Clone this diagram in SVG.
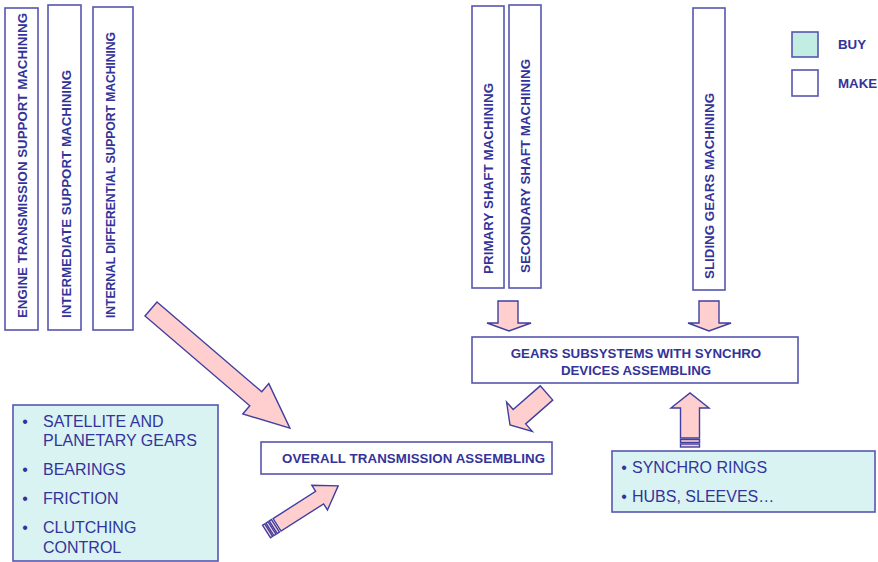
<svg xmlns="http://www.w3.org/2000/svg" width="878" height="562" viewBox="0 0 878 562">
  <defs>
    <style>
      .box { fill: #ffffff; stroke: #5656b0; stroke-width: 1.6; }
      .buy { fill: #d9f3f3; stroke: #5656b0; stroke-width: 1.6; }
      .legend-buy { fill: #c2ede3; stroke: #5656b0; stroke-width: 1.6; }
      .lbl { font-family: "Liberation Sans", Arial, Helvetica, sans-serif; font-weight: bold; font-size: 13.3px; fill: #33339a; }
      .item { font-family: "Liberation Sans", Arial, Helvetica, sans-serif; font-size: 16px; fill: #33339a; }
      .arrow { fill: #ffcfcf; stroke: #3f3fa0; stroke-width: 1.4; stroke-linejoin: miter; }
    </style>
  </defs>

  <rect width="878" height="562" fill="#ffffff"/>

  <!-- machining steps (vertical labels) -->
  <g id="engine-support">
    <rect class="box" x="5" y="8" width="33" height="322"/>
    <text class="lbl" transform="translate(26.5,318) rotate(-90)" textLength="305">ENGINE TRANSMISSION SUPPORT MACHINING</text>
  </g>
  <g id="intermediate-support">
    <rect class="box" x="48" y="5" width="33" height="325"/>
    <text class="lbl" transform="translate(70.5,318) rotate(-90)" textLength="248">INTERMEDIATE SUPPORT MACHINING</text>
  </g>
  <g id="differential-support">
    <rect class="box" x="93" y="7" width="40" height="323"/>
    <text class="lbl" style="font-size:12.2px" transform="translate(115,318) rotate(-90)" textLength="286">INTERNAL DIFFERENTIAL SUPPORT MACHINING</text>
  </g>
  <g id="primary-shaft">
    <rect class="box" x="472" y="6" width="32" height="282"/>
    <text class="lbl" transform="translate(493,274) rotate(-90)" textLength="191">PRIMARY SHAFT MACHINING</text>
  </g>
  <g id="secondary-shaft">
    <rect class="box" x="509" y="5" width="32" height="283"/>
    <text class="lbl" transform="translate(530,273) rotate(-90)" textLength="214">SECONDARY SHAFT MACHINING</text>
  </g>
  <g id="sliding-gears">
    <rect class="box" x="693" y="8" width="32" height="282"/>
    <text class="lbl" transform="translate(714,279) rotate(-90)" textLength="186">SLIDING GEARS MACHINING</text>
  </g>

  <!-- assemblies -->
  <g id="gears-subsystems">
    <rect class="box" x="472" y="337" width="326" height="46"/>
    <text class="lbl" x="636" y="358" text-anchor="middle">GEARS SUBSYSTEMS WITH SYNCHRO</text>
    <text class="lbl" x="636" y="375" text-anchor="middle">DEVICES ASSEMBLING</text>
  </g>
  <g id="overall-assembling">
    <rect class="box" x="261" y="442" width="291" height="32"/>
    <text class="lbl" x="282" y="463" textLength="263">OVERALL TRANSMISSION ASSEMBLING</text>
  </g>

  <!-- purchased parts -->
  <g id="bought-transmission-parts">
    <rect class="buy" x="13" y="405" width="205" height="156"/>
    <g class="item">
      <text x="25" y="427" text-anchor="middle">•</text>
      <text x="43" y="427">SATELLITE AND</text>
      <text x="43" y="446">PLANETARY GEARS</text>
      <text x="25" y="475" text-anchor="middle">•</text>
      <text x="43" y="475">BEARINGS</text>
      <text x="25" y="504" text-anchor="middle">•</text>
      <text x="43" y="504">FRICTION</text>
      <text x="25" y="533" text-anchor="middle">•</text>
      <text x="43" y="533">CLUTCHING</text>
      <text x="43" y="553">CONTROL</text>
    </g>
  </g>
  <g id="bought-synchro-parts">
    <rect class="buy" x="612" y="451" width="263" height="61"/>
    <g class="item">
      <text x="624" y="473" text-anchor="middle">•</text>
      <text x="632" y="473">SYNCHRO RINGS</text>
      <text x="624" y="502" text-anchor="middle">•</text>
      <text x="632" y="502">HUBS, SLEEVES…</text>
    </g>
  </g>

  <!-- legend -->
  <g id="legend">
    <rect class="legend-buy" x="792" y="32" width="26" height="25"/>
    <text class="lbl" x="838" y="49">BUY</text>
    <rect class="box" x="792" y="70" width="26" height="26"/>
    <text class="lbl" x="838" y="88">MAKE</text>
  </g>

  <!-- block arrows -->
  <g id="connectors">
    <!-- supports to overall assembling -->
    <polygon class="arrow" transform="translate(151,309) rotate(40.6)"
             points="0,-9.2 138,-9.2 138,-20 183,0 138,20 138,9.2 0,9.2"/>
    <!-- primary / secondary shafts to gears subsystems -->
    <polygon class="arrow" points="498,301 518,301 518,323 531,323 509,331 487,323 498,323"/>
    <!-- sliding gears to gears subsystems -->
    <polygon class="arrow" points="699,301 719,301 719,323 731,323 709,331 688,323 699,323"/>
    <!-- gears subsystems to overall assembling -->
    <polygon class="arrow" transform="translate(546.5,393) rotate(138.8)"
             points="0,-9.5 36,-9.5 36,-19.5 48.5,0 36,19.5 36,9.5 0,9.5"/>
    <!-- bought parts to overall assembling -->
    <g transform="translate(266.5,531.5) rotate(-32.5)">
      <rect class="arrow" x="0" y="-7.4" width="2.6" height="14.8"/>
      <rect class="arrow" x="4" y="-7.4" width="2.6" height="14.8"/>
      <rect class="arrow" x="8" y="-7.4" width="2.6" height="14.8"/>
      <polygon class="arrow" points="12.5,-7.4 63,-7.4 63,-14.6 85,0 63,14.6 63,7.4 12.5,7.4"/>
    </g>
    <!-- synchro parts to gears subsystems -->
    <g transform="translate(690,447) rotate(-90)">
      <rect class="arrow" x="0" y="-9.5" width="3" height="19"/>
      <rect class="arrow" x="4.5" y="-9.5" width="3" height="19"/>
      <polygon class="arrow" points="9,-9.5 39,-9.5 39,-19 54,0 39,19 39,9.5 9,9.5"/>
    </g>
  </g>
</svg>
